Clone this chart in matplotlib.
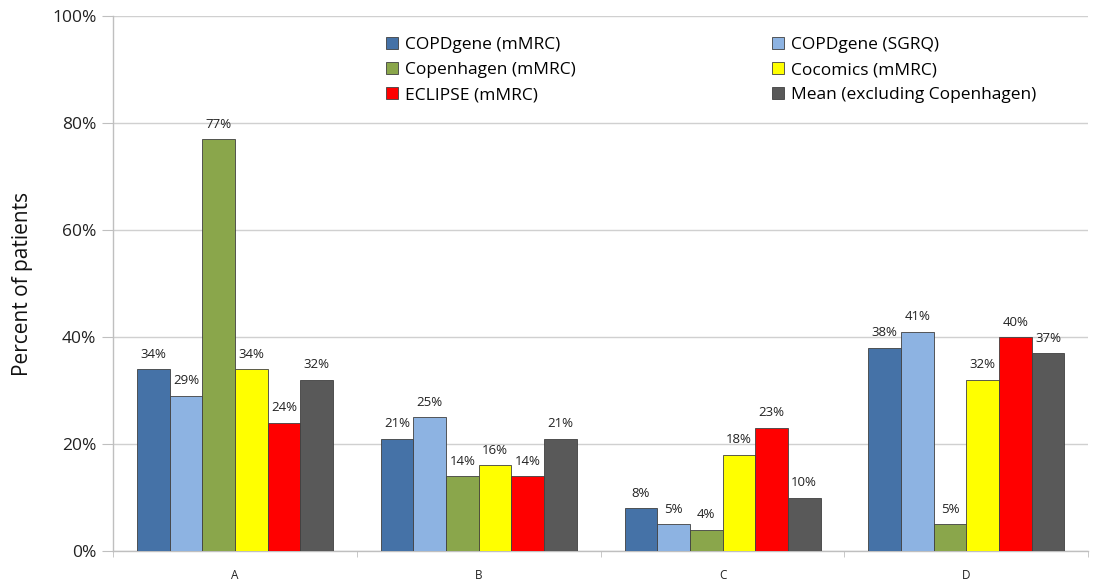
import numpy as np
import matplotlib
matplotlib.use("Agg")
import matplotlib.pyplot as plt
from matplotlib.ticker import FuncFormatter, FixedLocator

plt.rcParams['font.family'] = ['Open Sans', 'DejaVu Sans']

categories = ["A", "B", "C", "D"]
series_names = [
    "COPDgene (mMRC)",
    "COPDgene (SGRQ)",
    "Copenhagen (mMRC)",
    "Cocomics (mMRC)",
    "ECLIPSE (mMRC)",
    "Mean (excluding Copenhagen)",
]
copdgene_mmrc = [34, 21, 8, 38]
copdgene_sgrq = [29, 25, 5, 41]
copenhagen_mmrc = [77, 14, 4, 5]
cocomics_mmrc = [34, 16, 18, 32]
eclipse_mmrc = [24, 14, 23, 40]
mean_excl_copenhagen = [32, 21, 10, 37]

series_values = [copdgene_mmrc, copdgene_sgrq, copenhagen_mmrc,
                 cocomics_mmrc, eclipse_mmrc, mean_excl_copenhagen]
colors = ["#4572a7", "#8db3e2", "#8aa64b", "#ffff00", "#ff0000", "#595959"]

fig = plt.figure(figsize=(10.97, 5.80), dpi=100)
ax = fig.add_axes([0.103, 0.05, 0.889, 0.922])

n = len(series_values)
x = np.arange(len(categories))
bar_w = 0.134
offsets = (np.arange(n) - (n - 1) / 2) * bar_w

handles = []
for i, (name, vals, col) in enumerate(zip(series_names, series_values, colors)):
    bars = ax.bar(x + offsets[i], vals, width=bar_w, color=col,
                  edgecolor="#404040", linewidth=0.6, label=name, zorder=3)
    handles.append(bars)
    for xi, v in zip(x + offsets[i], vals):
        ax.text(xi, v + 1.6, f"{v}%", ha="center", va="bottom",
                fontsize=9.5, color="#222222", zorder=4)

ax.set_xlim(-0.5, len(categories) - 0.5)
ax.set_ylim(0, 100)
ax.set_xticks(x)
ax.set_xticklabels(categories, fontsize=8.5, color="#222222")
ax.xaxis.set_minor_locator(FixedLocator(np.arange(-0.5, len(categories), 1.0)))
ax.tick_params(axis="x", which="major", length=0, pad=13)
ax.tick_params(axis="x", which="minor", length=4, color="#bfbfbf")

ax.set_yticks(np.arange(0, 101, 20))
ax.yaxis.set_major_formatter(FuncFormatter(lambda v, p: f"{int(v)}%"))
ax.tick_params(axis="y", length=8, color="#bfbfbf", labelsize=12.5,
               labelcolor="#222222", pad=4)
ax.set_ylabel("Percent of patients", fontsize=15, color="#111111", labelpad=14)

ax.grid(axis="y", color="#d0d0d0", linewidth=1.0, zorder=0)
for side in ["top", "right"]:
    ax.spines[side].set_visible(False)
for side in ["left", "bottom"]:
    ax.spines[side].set_color("#bfbfbf")
    ax.spines[side].set_linewidth(1.0)

order = [0, 2, 4, 1, 3, 5]
leg = ax.legend([handles[i] for i in order], [series_names[i] for i in order],
                ncol=2, frameon=False, loc="upper left",
                bbox_to_anchor=(0.264, 0.99), fontsize=12.5,
                handlelength=0.7, handleheight=0.7, handletextpad=0.4,
                columnspacing=11.3, labelspacing=0.5)

fig.savefig("out.png", dpi=100)
